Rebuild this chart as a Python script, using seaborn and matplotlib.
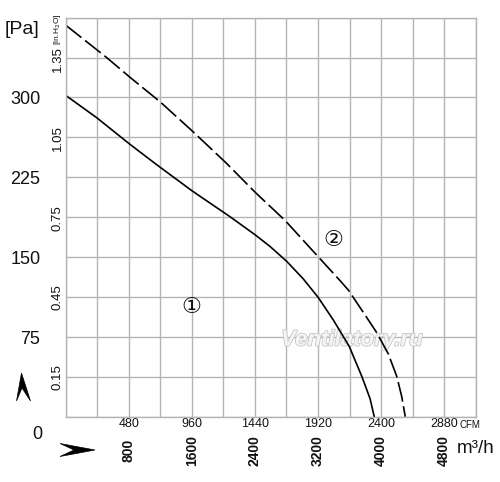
import numpy as np
import pandas as pd
import seaborn as sns
import matplotlib
matplotlib.use("Agg")
import matplotlib.pyplot as plt
import matplotlib.transforms as mtrans
import matplotlib.patheffects as pe
from matplotlib.patches import Polygon
from matplotlib import font_manager

# ---- data ----
curve1_cfm = [0, 236, 489, 680, 959, 1250, 1441, 1555, 1682, 1808, 1922, 2036, 2158, 2253, 2316, 2348]
curve1_pa = [302, 281, 256, 238, 212.5, 188, 171, 160, 146, 129.5, 112, 91, 66, 38, 17, 0]
curve2_cfm = [0, 312, 489, 718, 959, 1225, 1441, 1669, 1935, 2087, 2151, 2265, 2367, 2455, 2519, 2557, 2584]
curve2_pa = [368, 337.5, 319, 296, 269, 238, 211, 184.5, 148.5, 128, 119, 98, 79, 59, 38, 19, 0]

cfm_labels = [480, 960, 1440, 1920, 2400, 2880]
m3h_labels = ["800", "1600", "2400", "3200", "4000", "4800"]
pa_labels = [300, 225, 150, 75]
inh2o_labels = [1.35, 1.05, 0.75, 0.45, 0.15]
curve_names = ["①", "②"]
curve_name_pos_cfm = [953, 2036]
curve_name_pos_pa = [103, 166]

X_MAX, Y_MAX = 3120, 375
X_STEP, Y_STEP = 240, 37.5
PA_PER_INH2O = 249.09


def has_font(name):
    try:
        font_manager.findfont(name, fallback_to_default=False)
        return True
    except Exception:
        return False


NARROW = "Liberation Sans Narrow" if has_font("Liberation Sans Narrow") else "Liberation Sans"
REG = "Liberation Sans"

sns.set_theme(style="white")
plt.rcParams["font.family"] = [REG, "DejaVu Sans"]

df = pd.concat([
    pd.DataFrame({"cfm": curve1_cfm, "pa": curve1_pa, "curve": "1"}),
    pd.DataFrame({"cfm": curve2_cfm, "pa": curve2_pa, "curve": "2"}),
])

fig = plt.figure(figsize=(5.0, 4.82), dpi=100)
ax = fig.add_axes([65.7 / 500, 1 - 416.7 / 482, 410 / 500, 399 / 482])

grid_col = "#b4b4b4"
ax.set_xlim(0, X_MAX)
ax.set_ylim(0, Y_MAX)
xt = np.arange(0, X_MAX + 1, X_STEP)
yt = np.arange(0, Y_MAX + 0.1, Y_STEP)
ax.set_xticks(xt, labels=[str(int(v)) if int(v) in cfm_labels else "" for v in xt])
ax.set_yticks(yt, labels=[""] * len(yt))
ax.grid(True, color=grid_col, linewidth=1.0)
for s in ax.spines.values():
    s.set_color(grid_col)
    s.set_linewidth(1.0)
ax.tick_params(axis="both", length=0, pad=1.2)
ax.tick_params(axis="x", labelsize=9, labelcolor="#111111")
for lab in ax.get_xticklabels():
    lab.set_fontfamily(REG)

sns.lineplot(data=df, x="cfm", y="pa", hue="curve", style="curve",
             palette={"1": "black", "2": "black"},
             dashes={"1": "", "2": (12, 2.8)},
             linewidth=1.2, legend=False, sort=False, ax=ax)
ax.set_xlabel("")
ax.set_ylabel("")

# "CFM" unit
bt = mtrans.blended_transform_factory(ax.transData, ax.transAxes)
ax.text(2995, -0.021, "CFM", transform=bt, ha="left", va="center", fontsize=7,
        family=REG, color="#111111")

# m3/h labels (rotated)
for v, s in zip(cfm_labels, m3h_labels):
    ax.text(v, -0.084, s, transform=bt, rotation=90, ha="center", va="center",
            fontsize=10, family=NARROW, fontweight="bold", color="#111111")
ax.text(1.0, -0.08, "m³/h", transform=ax.transAxes, ha="center", va="center",
        fontsize=13.5, family=NARROW, color="#111111")

# Pa labels
lt = mtrans.blended_transform_factory(ax.transAxes, ax.transData)
for v in pa_labels:
    ax.text(-0.062, v - 2, str(v), transform=lt, ha="right", va="center",
            fontsize=13, family=NARROW, color="#111111")
ax.text(-0.057, -17, "0", transform=lt, ha="right", va="center",
        fontsize=13, family=NARROW, color="#111111")
ax.text(-0.065, 364, "[Pa]", transform=lt, ha="right", va="center",
        fontsize=14, family=NARROW, color="#111111")

# inH2O labels
for v in inh2o_labels:
    ax.text(-0.019, v * PA_PER_INH2O, f"{v:.2f}", transform=lt, rotation=90,
            ha="center", va="center", fontsize=9.5, family=NARROW, color="#111111")
ax.text(-0.019, 364, r"[in.H$_2$O]", transform=lt, rotation=90,
        ha="center", va="center", fontsize=6, family=NARROW, color="#111111")

# curve names
for name, cx, cy in zip(curve_names, curve_name_pos_cfm, curve_name_pos_pa):
    ax.text(cx, cy, name, ha="center", va="center", fontsize=16,
            family=["DejaVu Sans", "Noto Sans CJK SC"], color="#111111")

# watermark
ax.text(0.698, 0.192, "Ventilatory.ru", transform=ax.transAxes, ha="center",
        va="center", fontsize=16, fontstyle="italic", fontweight="bold",
        family=REG, color="#f4f4f4",
        path_effects=[pe.withStroke(linewidth=1.2, foreground="#c8c8c8")], zorder=1)

# arrows (pixel coordinates, origin top-left)
pix = mtrans.Affine2D().scale(1, -1).translate(0, 482)
up = Polygon([(21.5, 373), (30.5, 401), (22, 388), (16.5, 401)], closed=True,
             facecolor="black", edgecolor="black", linewidth=0.5, transform=pix)
right = Polygon([(95, 450), (60, 456.5), (74, 450), (60, 443.5)], closed=True,
                facecolor="black", edgecolor="black", linewidth=0.5, transform=pix)
fig.add_artist(up)
fig.add_artist(right)

fig.savefig("out.png", dpi=100, facecolor="white")
